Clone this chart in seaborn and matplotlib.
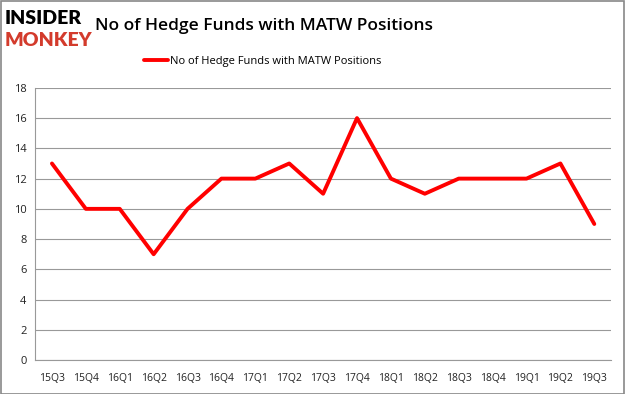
import matplotlib
matplotlib.use("Agg")
import matplotlib.pyplot as plt
import seaborn as sns
import numpy as np
import pandas as pd

quarters = ["15Q3", "15Q4", "16Q1", "16Q2", "16Q3", "16Q4", "17Q1", "17Q2", "17Q3",
            "17Q4", "18Q1", "18Q2", "18Q3", "18Q4", "19Q1", "19Q2", "19Q3"]
funds = [13, 10, 10, 7, 10, 12, 12, 13, 11, 16, 12, 11, 12, 12, 12, 13, 9]
series_name = "No of Hedge Funds with MATW Positions"

df = pd.DataFrame({"pos": np.arange(len(quarters)), "funds": funds})

sns.set_style("white")
plt.rcParams["font.family"] = ["Open Sans", "DejaVu Sans"]
plt.rcParams["text.color"] = "black"
plt.rcParams["xtick.color"] = "#222222"
plt.rcParams["ytick.color"] = "#222222"

fig = plt.figure(figsize=(6.25, 3.94), dpi=100)
ax = fig.add_axes([0.056, 0.086, 0.922, 0.691])

sns.lineplot(data=df, x="pos", y="funds", color="#ff0000", linewidth=2.8,
             label=series_name, ax=ax)

ax.set_xlim(-0.5, len(quarters) - 0.5)
ax.set_ylim(0, 18)
ax.set_yticks(range(0, 19, 2))
ax.set_xticks(np.arange(-0.5, len(quarters), 1.0))
ax.set_xticklabels([])
ax.set_xticks(np.arange(len(quarters)), minor=True)
ax.set_xticklabels(quarters, minor=True)
ax.tick_params(axis="x", which="major", length=4, color="#999999")
ax.tick_params(axis="x", which="minor", length=0, labelsize=7.5, pad=9)
ax.tick_params(axis="y", length=0, labelsize=8, pad=6)
ax.grid(axis="y", color="#999999", linewidth=0.8)
ax.set_axisbelow(True)
for s in ["top", "right"]:
    ax.spines[s].set_visible(False)
for s in ["left", "bottom"]:
    ax.spines[s].set_color("#999999")
ax.set_xlabel("")
ax.set_ylabel("")

ax.legend(loc="center", bbox_to_anchor=(0.42, 0.843), bbox_transform=fig.transFigure,
          frameon=False, fontsize=8, handlelength=2.2, handletextpad=0.1)

fig.text(0.422, 0.934, "No of Hedge Funds with MATW Positions", ha="center", va="center",
         fontsize=12.5, fontweight="semibold", color="black")
fig.text(0.008, 0.952, "INSIDER", fontsize=14, fontweight="heavy", color="black",
         ha="left", va="center", family=["Lato", "DejaVu Sans"])
fig.text(0.008, 0.897, "MONKEY", fontsize=14, fontweight="heavy", color="#d33b2c",
         ha="left", va="center", family=["Lato", "DejaVu Sans"])

fig.patches.append(plt.Rectangle((0.001, 0.001), 0.997, 0.997, transform=fig.transFigure,
                                 fill=False, edgecolor="#888888", linewidth=1.2))

fig.savefig("out.png", dpi=100)
